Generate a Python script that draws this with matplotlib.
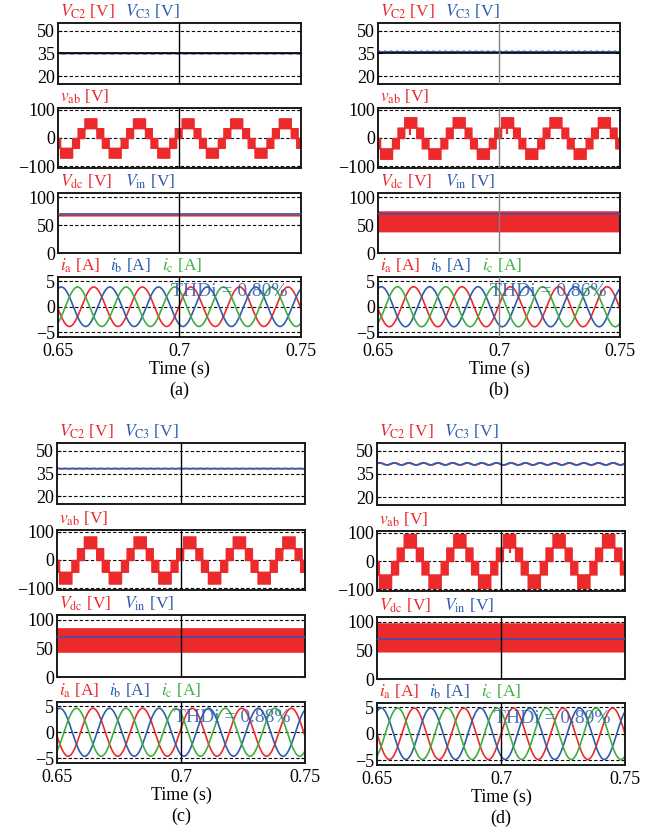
import numpy as np
import matplotlib
matplotlib.use("Agg")
import matplotlib.pyplot as plt

plt.rcParams['font.family'] = ['Liberation Serif', 'DejaVu Serif']
plt.rcParams['mathtext.fontset'] = 'stix'
plt.rcParams['axes.unicode_minus'] = True

RED = '#EC2A2C'
BLUE = '#2E5DAC'
GREEN = '#3FAE3F'
VIN_C = '#4B4FA0'

# ---------------- data ----------------
panel_names = ['(a)', '(b)', '(c)', '(d)']
t_start, t_end = 0.65, 0.75
f_grid = 50.0                      # Hz, fundamental

# capacitor voltages (mean, ripple amplitude, ripple frequency)
vc_mean = [35.0, 36.1, 38.2, 41.5]
vc_ripple = [0.15, 0.25, 0.1, 0.7]
vc_ripple_f = [300.0, 400.0, 350.0, 170.0]

# line-to-line voltage vab: level step [V], reference amplitude [V], phase [deg]
vab_step = [35.0, 37.0, 42.0, 48.0]
vab_amp = [49.0, 52.0, 59.0, 67.0]
vab_phase_deg = [30.0, 30.0, 30.0, 32.0]
# narrow switching spikes in vab: panel, time [s], from [V], to [V]
spike_panel = [1, 1, 1, 3, 3]
spike_t = [0.6633, 0.7033, 0.7335, 0.7037, 0.7345]
spike_from = [37.0, 37.0, -37.0, 48.0, -48.0]
spike_to = [10.0, 14.0, -58.0, 30.0, -70.0]

# dc-link voltage band (lower, upper) and input voltage
vdc_low = [66.5, 38.0, 43.0, 47.0]
vdc_high = [69.5, 76.0, 86.0, 98.0]
vin = [70.0, 71.0, 69.0, 70.0]

# phase currents: amplitude [A] and time of ia peak [s]
i_amp = [3.85, 3.9, 4.6, 4.85]
ia_peak_t = [0.6647, 0.6647, 0.6645, 0.6650]
thd = ['0.80%', '0.86%', '0.88%', '0.89%']

# ---------------- layout (pixels) ----------------
W, H = 660, 833
cols_lr = [(58, 301), (378, 620), (57, 305), (377, 625)]
rows_tb = [
    [(23, 84), (108, 168), (193, 253), (277, 337)],
    [(23, 84), (108, 168), (193, 253), (277, 337)],
    [(443, 504), (530, 590), (615, 677), (702, 763)],
    [(443, 505), (531, 591), (617, 679), (703, 765)],
]

fig = plt.figure(figsize=(W / 100, H / 100), dpi=100)
t = np.linspace(t_start, t_end, 40001)
w = 2 * np.pi * f_grid

TICK_FS = 13
LAB_FS = 12.5


def make_ax(l, r, top, bot):
    ax = fig.add_axes([l / W, 1 - bot / H, (r - l) / W, (bot - top) / H])
    ax.set_xlim(t_start, t_end)
    for s in ax.spines.values():
        s.set_linewidth(1.4)
        s.set_color('#1a1a1a')
    ax.tick_params(direction='in', length=3, width=0.8, labelsize=TICK_FS,
                   right=True, top=False, pad=2)
    ax.set_xticks([0.65, 0.7, 0.75])
    return ax


def grid_h(ax, ys, solid=()):
    for y in ys:
        if y in solid:
            ax.axhline(y, color='black', lw=1.2, zorder=3)
        else:
            ax.axhline(y, color='black', lw=0.8, ls=(0, (3, 2)), zorder=1)


def labels(ax, parts, xs):
    for (s, c), x in zip(parts, xs):
        ax.text(x, 1.03, s, color=c, fontsize=LAB_FS, transform=ax.transAxes,
                ha='left', va='bottom')


for p in range(4):
    l, r = cols_lr[p]
    vline_c = '#808080' if p == 1 else 'black'
    span = r - l
    lx = [2 / span, 67 / span]

    # ---- VC2 / VC3 ----
    ax = make_ax(l, r, *rows_tb[p][0])
    ax.set_ylim(15, 55)
    ax.set_yticks([20, 35, 50])
    grid_h(ax, [20, 35, 50], solid=(35,) if p < 2 else ())
    vc2 = vc_mean[p] + vc_ripple[p] * np.sin(2 * np.pi * vc_ripple_f[p] * (t - t_start))
    vc3 = vc_mean[p] + vc_ripple[p] * np.sin(2 * np.pi * vc_ripple_f[p] * (t - t_start) + 0.6)
    ax.plot(t, vc2, color=RED, lw=1.0, zorder=2)
    ax.plot(t, vc3, color=BLUE, lw=1.3, zorder=2)
    ax.axvline(0.7, color=vline_c, lw=1.0, zorder=4)
    ax.set_xticklabels([])
    ax.tick_params(axis='x', length=0)
    labels(ax, [(r'$V_{\mathrm{C2}}$ [V]', RED), (r'$V_{\mathrm{C3}}$ [V]', BLUE)], lx)

    # ---- vab ----
    ax = make_ax(l, r, *rows_tb[p][1])
    ax.set_ylim(-107, 107)
    ax.set_yticks([-100, 0, 100])
    grid_h(ax, [-100, 0, 100])
    ref = -vab_amp[p] * np.sin(w * (t - t_start) + np.deg2rad(vab_phase_deg[p]))
    L = vab_step[p]
    lo = np.floor(ref / L) * L
    hi = np.ceil(ref / L) * L
    near0 = np.abs(ref) < 0.12 * L
    lo[near0] = -L
    hi[near0] = L
    ax.fill_between(t, lo, hi, color=RED, lw=1.0, edgecolor=RED, zorder=2)
    for sp, st, sf, stt in zip(spike_panel, spike_t, spike_from, spike_to):
        if sp == p:
            ax.vlines(st, min(sf, stt), max(sf, stt), color=RED, lw=1.6, zorder=2)
    ax.axvline(0.7, color=vline_c, lw=1.0, zorder=4)
    ax.set_xticklabels([])
    ax.tick_params(axis='x', length=0)
    labels(ax, [(r'$v_{\mathrm{ab}}$ [V]', RED)], lx[:1])

    # ---- Vdc / Vin ----
    ax = make_ax(l, r, *rows_tb[p][2])
    ax.set_ylim(0, 108)
    ax.set_yticks([0, 50, 100])
    grid_h(ax, [50, 100])
    ax.fill_between(t, vdc_low[p], vdc_high[p], color=RED, lw=0, zorder=2)
    ax.plot([t_start, t_end], [vin[p], vin[p]], color=VIN_C if p else BLUE, lw=1.3, zorder=3)
    ax.axvline(0.7, color=vline_c, lw=1.0, zorder=4)
    ax.set_xticklabels([])
    ax.tick_params(axis='x', length=0)
    labels(ax, [(r'$V_{\mathrm{dc}}$ [V]', RED), (r'$V_{\mathrm{in}}$ [V]', BLUE)], lx)

    # ---- currents ----
    ax = make_ax(l, r, *rows_tb[p][3])
    ax.set_ylim(-5.9, 5.8)
    ax.set_yticks([-5, 0, 5])
    grid_h(ax, [-5, 0, 5])
    A = i_amp[p]
    th = w * (t - ia_peak_t[p])
    ax.plot(t, A * np.cos(th), color=RED, lw=1.2, zorder=2)
    ax.plot(t, A * np.cos(th - 2 * np.pi / 3), color=BLUE, lw=1.2, zorder=2)
    ax.plot(t, A * np.cos(th + 2 * np.pi / 3), color=GREEN, lw=1.2, zorder=2)
    ax.axvline(0.7, color=vline_c, lw=1.0, zorder=4)
    ax.text(0.7205, 2.9, 'THDi = ' + thd[p], color=BLUE, alpha=0.85, fontsize=14,
            ha='center', va='center', zorder=5)
    ax.set_xticklabels(['0.65', '0.7', '0.75'])
    ax.tick_params(axis='x', length=0, pad=4)
    ax.set_xlabel('Time (s)', fontsize=TICK_FS, labelpad=1)
    labels(ax, [(r'$i_{\mathrm{a}}$ [A]', RED), (r'$i_{\mathrm{b}}$ [A]', BLUE),
                (r'$i_{\mathrm{c}}$ [A]', GREEN)], [2 / span, 52 / span, 104 / span])

    bot = rows_tb[p][3][1]
    fig.text((l + r) / 2 / W, 1 - (bot + 53) / H, panel_names[p], fontsize=TICK_FS,
             ha='center', va='center')

fig.savefig('out.png', dpi=100)
